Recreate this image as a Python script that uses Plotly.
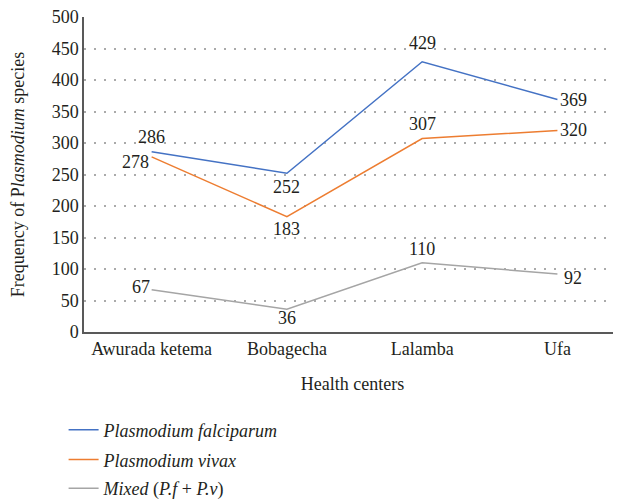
import plotly.graph_objects as go

centers = ["Awurada ketema", "Bobagecha", "Lalamba", "Ufa"]
falciparum = [286, 252, 429, 369]
vivax = [278, 183, 307, 320]
mixed = [67, 36, 110, 92]
y_ticks = [0, 50, 100, 150, 200, 250, 300, 350, 400, 450, 500]

# label offsets (style only): (dx, dy) in pixels from the point, dy positive = up
off_falc = [(0, 15), (0, -14), (0, 19), (16, 0)]
off_viv = [(-16, -5), (0, -12), (0, 15), (16, 0)]
off_mix = [(-11, 3), (0, -9), (0, 14), (16, -4)]

FONT = "Liberation Serif"
TXT = "#231f20"
fig = go.Figure()

series = [
    ("<i>Plasmodium falciparum</i>", falciparum, "#4472C4", off_falc, "legend"),
    ("<i>Plasmodium vivax</i>", vivax, "#ED7D31", off_viv, "legend2"),
    ("<i>Mixed</i> (<i>P.f</i> + <i>P.v</i>)", mixed, "#A5A5A5", off_mix, "legend3"),
]
annotations = []
for name, vals, color, offs, lg in series:
    fig.add_trace(go.Scatter(
        x=centers, y=vals, mode="lines", name=name,
        line=dict(color=color, width=1.5), legend=lg, hoverinfo="x+y"))
    for c, v, (dx, dy) in zip(centers, vals, offs):
        annotations.append(dict(
            x=c, y=v, xref="x", yref="y", text=str(v), showarrow=False,
            xanchor="center", yanchor="middle", xshift=dx, yshift=dy,
            font=dict(family=FONT, size=18, color=TXT)))

leg = dict(x=-0.038, xanchor="left", yanchor="middle", bgcolor="rgba(0,0,0,0)",
           font=dict(family=FONT, size=18, color=TXT))
fig.update_layout(
    width=621, height=500,
    margin=dict(l=76, r=8, t=9, b=176, autoexpand=False),
    paper_bgcolor="white", plot_bgcolor="white",
    font=dict(family=FONT, size=18, color=TXT),
    showlegend=True,
    legend=dict(leg, y=-0.311),
    legend2=dict(leg, y=-0.406),
    legend3=dict(leg, y=-0.497),
    annotations=annotations,
    xaxis=dict(
        range=[-0.5, 3.47], showgrid=False, showline=True, linecolor="#595959", linewidth=1.5,
        ticks="", tickfont=dict(family=FONT, size=18, color=TXT),
        title=dict(text="Health centers", font=dict(family=FONT, size=18, color=TXT), standoff=19),
    ),
    yaxis=dict(
        range=[0, 500], tickvals=y_ticks, showgrid=True, gridcolor="#aaaaaa", griddash="2px,8px",
        gridwidth=1.5, showline=True, linecolor="#595959", linewidth=1.5, ticks="",
        zeroline=False, tickfont=dict(family=FONT, size=18, color=TXT),
        ticklabeloverflow="allow",
        title=dict(text="Frequency of P<i>lasmodium</i> species",
                   font=dict(family=FONT, size=18, color=TXT), standoff=24),
    ),
)

fig.write_html("out.html")
